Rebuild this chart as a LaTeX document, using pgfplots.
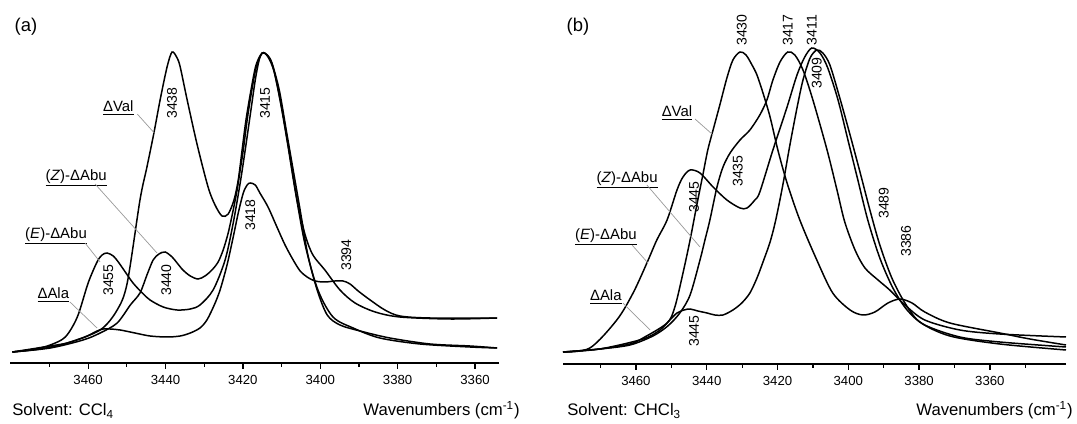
\documentclass[border=0pt]{standalone}
\usepackage{fontspec}
\setmainfont{Liberation Sans}
\usepackage{pgfplots}
\pgfplotsset{compat=1.18}

\pgfplotsset{
  spectrum/.style={
    scale only axis,
    x dir=reverse,
    axis x line*=bottom,
    hide y axis,
    enlargelimits=false,
    ymin=0,
    clip=false,
    axis line style={line width=1.3pt},
    xtick={3360,3380,...,3460},
    tick align=outside,
    major tick length=0.12cm,
    minor tick length=0.07cm,
    tick style={black, line width=0.7pt},
    xticklabel style={font=\fontsize{7.5}{8}\selectfont},
    /pgf/number format/assume math mode=true,
    /pgf/number format/1000 sep={},
    every axis plot post/.append style={black, line width=0.85pt, smooth, mark=none},
  },
}
\tikzset{
  pk/.style={font=\fontsize{8}{9}\selectfont, rotate=90, inner sep=0pt},
  cmp/.style={font=\fontsize{8.5}{10}\selectfont, inner sep=0pt},
  ld/.style={gray!80, line width=0.4pt},
}

\begin{document}
\begin{tikzpicture}
\path[use as bounding box] (0,0) rectangle (21.54cm,8.46cm);

% ---------- (a) CCl4 ----------
\begin{axis}[spectrum,
  at={(0.2cm,1.2cm)}, anchor=south west,
  width=9.78cm, height=6.6cm,
  xmin=3353.8, xmax=3480.2, ymax=330,
  minor xtick={3370,3390,...,3470},
]
% DVal
\addplot coordinates {(3479.6,11) (3472.4,14) (3465.4,20) (3456.9,33) (3452.5,53) (3449.9,80) (3446.6,163) (3444.8,196) (3443.0,230) (3441.4,263) (3439.6,296) (3438.3,311) (3437.0,305) (3436.2,296) (3434.4,263) (3431.8,218) (3429.0,176) (3427.2,158) (3425.4,147) (3423.8,149) (3422.3,163) (3421.2,183) (3420.2,213) (3419.2,243) (3417.9,273) (3416.6,298) (3415.0,310) (3413.5,307) (3412.2,296) (3410.4,263) (3408.6,223) (3406.5,173) (3403.9,118) (3400.6,73) (3396.7,46) (3391.5,35) (3384.6,25) (3374.2,19) (3361.3,16) (3354.3,15)};
% (Z)-DAbu
\addplot coordinates {(3479.6,11) (3469.8,15) (3461.3,23) (3456.9,30) (3452.5,40) (3449.1,58) (3446.6,70) (3444.8,88) (3443.2,103) (3441.7,109) (3440.1,111) (3438.3,106) (3437.0,100) (3435.5,93) (3433.6,87) (3431.6,84) (3429.8,87) (3428.0,93) (3426.4,101) (3425.1,113) (3423.8,130) (3422.5,153) (3421.5,173) (3420.7,193) (3419.9,213) (3418.9,243) (3417.9,268) (3416.6,295) (3415.0,310) (3413.5,306) (3411.9,291) (3410.1,258) (3408.1,213) (3406.0,163) (3403.9,128) (3401.9,108) (3398.8,93) (3394.9,73) (3391.0,60) (3385.8,51) (3379.4,46) (3366.5,44) (3354.3,45)};
% (E)-DAbu
\addplot coordinates {(3479.6,11) (3473.7,14) (3469.8,18) (3465.9,26) (3462.8,46) (3460.0,80) (3457.7,101) (3456.4,108) (3455.1,110) (3453.5,107) (3452.2,101) (3450.4,91) (3448.4,80) (3446.0,70) (3444.0,63) (3440.6,56) (3437.0,53) (3433.6,54) (3431.1,58) (3427.7,73) (3424.6,103) (3422.5,140) (3420.7,180) (3419.4,213) (3418.1,248) (3416.8,283) (3415.8,303) (3415.0,310) (3413.7,308) (3412.5,300) (3410.6,273) (3408.8,233) (3407.0,193) (3405.2,153) (3403.2,108) (3400.8,73) (3398.2,48) (3394.9,38) (3389.7,32) (3382.0,25) (3371.6,19) (3361.3,17) (3354.3,15)};
% DAla
\addplot coordinates {(3479.6,11) (3469.8,17) (3465.4,20) (3460.8,26) (3457.7,32) (3456.1,34) (3454.3,34) (3451.7,33) (3447.9,30) (3444.0,27) (3439.6,26) (3436.2,27) (3433.6,30) (3431.1,35) (3429.3,43) (3427.4,58) (3425.9,73) (3424.1,98) (3422.5,126) (3421.2,150) (3419.9,170) (3418.9,178) (3418.1,180) (3416.8,178) (3415.6,170) (3413.5,156) (3411.2,136) (3409.1,118) (3407.0,103) (3405.2,92) (3403.4,86) (3401.3,82) (3398.8,81) (3396.2,82) (3394.1,82) (3392.3,79) (3390.2,72) (3387.1,63) (3383.3,53) (3379.4,47) (3371.6,45) (3354.3,45)};

\node[pk] at (axis cs:3438.3,260) {3438};
\node[pk] at (axis cs:3414.3,260) {3415};
\node[pk] at (axis cs:3418.1,148) {3418};
\node[pk] at (axis cs:3454.8,83) {3455};
\node[pk] at (axis cs:3439.8,83) {3440};
\node[pk] at (axis cs:3393.3,108) {3394};

\node[cmp] at (axis cs:3452.2,255) {\underline{ΔVal}};
\draw[ld] (axis cs:3447.3,249) -- (axis cs:3442.9,230);
\node[cmp] at (axis cs:3463.1,185) {\underline{(\textit{Z})-ΔAbu}};
\draw[ld] (axis cs:3458.2,179) -- (axis cs:3442.2,110);
\node[cmp] at (axis cs:3468.3,127) {\underline{(\textit{E})-ΔAbu}};
\draw[ld] (axis cs:3460.8,120) -- (axis cs:3456.9,101);
\node[cmp] at (axis cs:3469.0,68) {\underline{ΔAla}};
\draw[ld] (axis cs:3464.7,61) -- (axis cs:3457.7,35);
\end{axis}

% ---------- (b) CHCl3 ----------
\begin{axis}[spectrum,
  at={(11.26cm,1.18cm)}, anchor=south west,
  width=10.06cm, height=6.8cm,
  xmin=3338.5, xmax=3480.6, ymax=340,
  minor xtick={3350,3370,...,3470},
]
% DVal
\addplot coordinates {(3480.6,12) (3470.2,15) (3461.7,20) (3458.0,26) (3451.2,41) (3449.0,57) (3446.7,91) (3444.7,124) (3442.8,159) (3441.1,189) (3439.7,214) (3438.2,234) (3436.3,259) (3434.3,286) (3432.6,304) (3430.6,312) (3428.9,309) (3427.2,299) (3425.8,289) (3424.1,271) (3422.1,247) (3419.9,214) (3417.3,181) (3413.7,144) (3408.9,104) (3404.4,71) (3399.5,54) (3395.9,49) (3392.5,52) (3388.8,61) (3385.4,65) (3382.0,61) (3378.4,52) (3371.3,41) (3357.2,31) (3348.7,25) (3338.5,19)};
% (Z)-DAbu
\addplot coordinates {(3480.6,12) (3470.2,15) (3461.7,19) (3455.2,28) (3451.0,38) (3447.6,51) (3444.7,69) (3441.9,104) (3440.5,124) (3439.1,144) (3437.1,177) (3435.4,197) (3433.4,211) (3430.6,224) (3427.8,234) (3425.0,249) (3423.0,264) (3421.3,284) (3419.3,302) (3417.1,312) (3415.1,309) (3412.8,294) (3410.0,264) (3406.0,214) (3403.2,174) (3401.0,142) (3398.1,114) (3395.3,96) (3391.6,84) (3388.3,74) (3384.0,59) (3378.4,44) (3368.5,34) (3357.2,30) (3338.5,27)};
% (E)-DAbu
\addplot coordinates {(3480.6,12) (3473.0,16) (3465.4,44) (3460.8,71) (3456.9,101) (3454.1,124) (3451.2,144) (3448.4,174) (3446.7,187) (3444.7,194) (3441.9,191) (3438.2,177) (3434.3,164) (3430.6,156) (3428.6,156) (3426.4,164) (3425.0,172) (3421.3,214) (3417.3,257) (3414.5,289) (3412.3,307) (3410.3,316) (3408.0,311) (3405.8,296) (3402.9,264) (3400.1,224) (3397.3,184) (3394.5,144) (3391.1,106) (3387.4,76) (3383.4,54) (3378.4,39) (3368.5,27) (3357.2,22) (3338.5,17)};
% DAla
\addplot coordinates {(3480.6,12) (3470.2,15) (3458.0,25) (3453.2,34) (3450.4,44) (3448.4,51) (3446.4,54) (3444.7,55) (3442.5,53) (3439.9,51) (3437.7,49) (3435.4,49) (3432.6,54) (3430.1,61) (3427.8,71) (3425.8,86) (3424.1,102) (3422.1,122) (3420.5,144) (3418.5,179) (3416.5,219) (3414.5,256) (3412.8,284) (3410.8,306) (3408.9,314) (3407.2,311) (3405.2,299) (3402.4,266) (3399.5,229) (3396.7,192) (3393.9,154) (3391.1,119) (3387.7,86) (3384.0,61) (3379.8,42) (3371.3,28) (3357.2,20) (3338.5,14)};

\node[pk] at (axis cs:3430.1,334) {3430};
\node[pk] at (axis cs:3417.1,334) {3417};
\node[pk] at (axis cs:3410.3,334) {3411};
\node[pk] at (axis cs:3408.9,291) {3409};
\node[pk] at (axis cs:3431.2,193) {3435};
\node[pk] at (axis cs:3443.6,167) {3445};
\node[pk] at (axis cs:3390.0,161) {3489};
\node[pk] at (axis cs:3383.7,123) {3386};
\node[pk] at (axis cs:3443.6,33) {3445};

\node[cmp] at (axis cs:3448.4,251) {\underline{ΔVal}};
\draw[ld] (axis cs:3443.3,245) -- (axis cs:3438.2,229);
\node[cmp] at (axis cs:3462.5,184) {\underline{(\textit{Z})-ΔAbu}};
\draw[ld] (axis cs:3456.9,179) -- (axis cs:3441.9,117);
\node[cmp] at (axis cs:3468.5,127) {\underline{(\textit{E})-ΔAbu}};
\draw[ld] (axis cs:3461.1,119) -- (axis cs:3456.6,101);
\node[cmp] at (axis cs:3468.5,67) {\underline{ΔAla}};
\draw[ld] (axis cs:3463.7,61) -- (axis cs:3456.0,34);
\end{axis}

\node[font=\fontsize{10.5}{12}\selectfont] at (0.52cm,7.92cm) {(a)};
\node[font=\fontsize{10.5}{12}\selectfont] at (11.56cm,7.92cm) {(b)};
\node[font=\fontsize{9.5}{10}\selectfont, anchor=base west, inner sep=0pt] at (0.24cm,0.14cm) {Solvent: CCl\textsubscript{4}};
\node[font=\fontsize{9.5}{10}\selectfont, anchor=base east, inner sep=0pt] at (10.4cm,0.14cm) {Wavenumbers (cm\textsuperscript{-1})};
\node[font=\fontsize{9.5}{10}\selectfont, anchor=base west, inner sep=0pt] at (11.34cm,0.14cm) {Solvent: CHCl\textsubscript{3}};
\node[font=\fontsize{9.5}{10}\selectfont, anchor=base east, inner sep=0pt] at (21.46cm,0.14cm) {Wavenumbers (cm\textsuperscript{-1})};
\end{tikzpicture}
\end{document}
